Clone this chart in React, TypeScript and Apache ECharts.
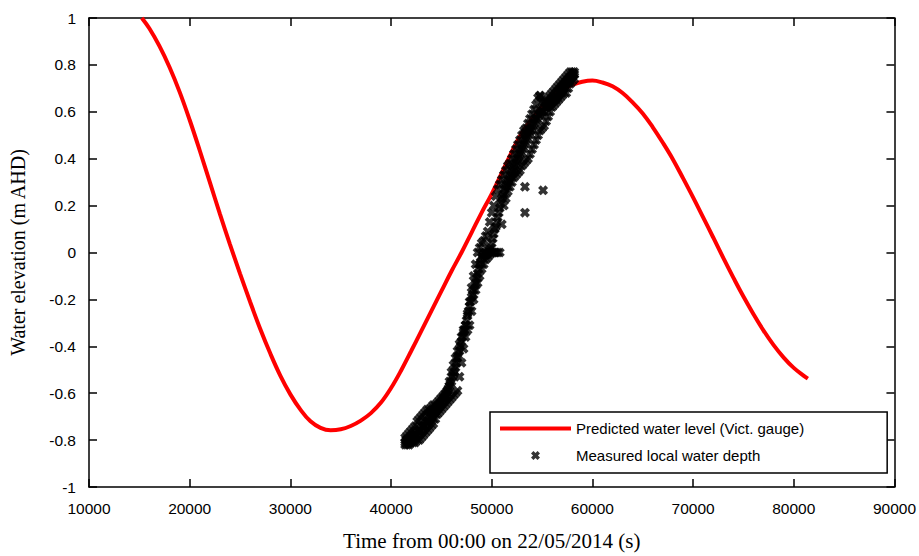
import React, { useEffect, useRef } from "react";
import * as echarts from "echarts";

// ---- Data ----
const lineName = "Predicted water level (Vict. gauge)";
const scatName = "Measured local water depth";

const xTicks = [10000, 20000, 30000, 40000, 50000, 60000, 70000, 80000, 90000];
const yTicks = [-1, -0.8, -0.6, -0.4, -0.2, 0, 0.2, 0.4, 0.6, 0.8, 1];

const predTime = [
  15250, 16000, 17000, 18000, 19000, 20000, 21000, 22000, 23000, 24000,
  25000, 26000, 27000, 28000, 29000, 30000, 31000, 32000, 33000, 34000,
  35000, 36000, 37000, 38000, 39000, 40000, 41000, 42000, 43000, 44000,
  45000, 46000, 47000, 48000, 49000, 50000, 51000, 52000, 53000, 54000,
  55000, 56000, 57000, 58000, 59000, 60000, 61000, 62000, 63000, 64000,
  65000, 66000, 67000, 68000, 69000, 70000, 71000, 72000, 73000, 74000,
  75000, 76000, 77000, 78000, 79000, 80000, 81000, 81400,
];
const predLevel = [
  1.0, 0.955, 0.88, 0.79, 0.685, 0.565, 0.435, 0.3, 0.165, 0.035,
  -0.09, -0.21, -0.325, -0.43, -0.525, -0.605, -0.67, -0.72, -0.748, -0.758,
  -0.754, -0.74, -0.717, -0.685, -0.64, -0.578, -0.503, -0.42, -0.335, -0.25,
  -0.165, -0.08, 0.0, 0.085, 0.17, 0.25, 0.34, 0.43, 0.51, 0.57,
  0.622, 0.663, 0.695, 0.715, 0.728, 0.733, 0.725, 0.709, 0.68, 0.64,
  0.593, 0.534, 0.468, 0.397, 0.317, 0.235, 0.15, 0.064, -0.023, -0.107,
  -0.188, -0.263, -0.333, -0.395, -0.448, -0.492, -0.526, -0.538,
];

// measured band, sampled every 200 s (upper edge, middle, lower edge)
const measTime = [
  41400, 41600, 41800, 42000, 42200, 42400, 42600, 42800, 43000, 43200,
  43400, 43600, 43800, 44000, 44200, 44400, 44600, 44800, 45000, 45200,
  45400, 45600, 45800, 46000, 46200, 46400, 46600, 46800, 47000, 47200,
  47400, 47600, 47800, 48000, 48200, 48400, 48600, 48800, 49000, 49200,
  49400, 49600, 49800, 50000, 50200, 50400, 50600, 50800, 51000, 51200,
  51400, 51600, 51800, 52000, 52200, 52400, 52600, 52800, 53000, 53200,
  53400, 53600, 53800, 54000, 54200, 54400, 54600, 54800, 55000, 55200,
  55400, 55600, 55800, 56000, 56200, 56400, 56600, 56800, 57000, 57200,
  57400, 57600, 57800, 58000, 58200,
];
const measUpper = [
  -0.79, -0.78, -0.77, -0.76, -0.75, -0.74, -0.72, -0.71, -0.7, -0.69,
  -0.68, -0.67, -0.67, -0.66, -0.65, -0.65, -0.64, -0.63, -0.62, -0.61,
  -0.6, -0.59, -0.55, -0.51, -0.48, -0.45, -0.42, -0.39, -0.36, -0.33,
  -0.31, -0.26, -0.21, -0.15, -0.1, -0.05, 0.0, 0.02, 0.04, 0.05,
  0.07, 0.09, 0.13, 0.17, 0.2, 0.24, 0.27, 0.29, 0.31, 0.33,
  0.35, 0.37, 0.38, 0.4, 0.42, 0.44, 0.46, 0.48, 0.5, 0.52,
  0.53, 0.55, 0.57, 0.59, 0.61, 0.63, 0.66, 0.67, 0.64, 0.64,
  0.65, 0.66, 0.67, 0.68, 0.69, 0.7, 0.71, 0.72, 0.73, 0.74,
  0.75, 0.76, 0.77, 0.77, 0.77,
];
const measMid = [
  -0.81, -0.8, -0.81, -0.79, -0.79, -0.78, -0.77, -0.76, -0.75, -0.74,
  -0.73, -0.72, -0.71, -0.7, -0.69, -0.68, -0.66, -0.65, -0.64, -0.62,
  -0.61, -0.59, -0.57, -0.55, -0.52, -0.49, -0.45, -0.42, -0.38, -0.34,
  -0.31, -0.27, -0.23, -0.19, -0.16, -0.13, -0.09, -0.05, -0.02, -0.01,
  0.0, 0.0, 0.01, 0.04, 0.08, 0.11, 0.15, 0.19, 0.23, 0.25,
  0.28, 0.3, 0.32, 0.34, 0.36, 0.38, 0.4, 0.42, 0.44, 0.46,
  0.48, 0.5, 0.52, 0.53, 0.55, 0.57, 0.58, 0.59, 0.6, 0.61,
  0.62, 0.63, 0.64, 0.64, 0.65, 0.66, 0.67, 0.68, 0.7, 0.71,
  0.72, 0.73, 0.74, 0.75, 0.76,
];
const measLower = [
  -0.82, -0.82, -0.82, -0.81, -0.81, -0.81, -0.8, -0.8, -0.79, -0.78,
  -0.77, -0.76, -0.75, -0.74, -0.73, -0.71, -0.69, -0.68, -0.67, -0.66,
  -0.65, -0.64, -0.63, -0.62, -0.61, -0.6, -0.59, -0.53, -0.47, -0.41,
  -0.36, -0.33, -0.31, -0.25, -0.2, -0.16, -0.13, -0.1, -0.07, -0.05,
  -0.03, -0.02, -0.01, 0.0, 0.0, 0.0, 0.0, 0.0, 0.12, 0.2,
  0.23, 0.26, 0.28, 0.3, 0.32, 0.33, 0.34, 0.35, 0.37, 0.38,
  0.39, 0.4, 0.42, 0.44, 0.46, 0.48, 0.5, 0.52, 0.53, 0.54,
  0.56, 0.58, 0.6, 0.62, 0.63, 0.64, 0.65, 0.66, 0.67, 0.68,
  0.68, 0.7, 0.72, 0.73, 0.74,
];
// measured band, readings at the intermediate times
const measTime2 = [
  41500, 41700, 41900, 42100, 42300, 42500, 42700, 42900, 43100, 43300,
  43500, 43700, 43900, 44100, 44300, 44500, 44700, 44900, 45100, 45300,
  45500, 45700, 45900, 46100, 46300, 46500, 46700, 46900, 47100, 47300,
  47500, 47700, 47900, 48100, 48300, 48500, 48700, 48900, 49100, 49300,
  49500, 49700, 49900, 50100, 50300, 50500, 50700, 50900, 51100, 51300,
  51500, 51700, 51900, 52100, 52300, 52500, 52700, 52900, 53100, 53300,
  53500, 53700, 53900, 54100, 54300, 54500, 54700, 54900, 55100, 55300,
  55500, 55700, 55900, 56100, 56300, 56500, 56700, 56900, 57100, 57300,
  57500, 57700, 57900, 58100,
];
const measMid2 = [
  -0.8, -0.81, -0.8, -0.79, -0.78, -0.78, -0.76, -0.76, -0.74, -0.74,
  -0.72, -0.72, -0.7, -0.7, -0.68, -0.67, -0.66, -0.64, -0.63, -0.62,
  -0.6, -0.58, -0.56, -0.53, -0.51, -0.47, -0.44, -0.4, -0.36, -0.33,
  -0.29, -0.25, -0.21, -0.18, -0.14, -0.11, -0.07, -0.04, -0.01, 0.0,
  -0.01, 0.01, 0.02, 0.06, 0.1, 0.13, 0.17, 0.21, 0.24, 0.27,
  0.29, 0.31, 0.33, 0.35, 0.37, 0.39, 0.41, 0.43, 0.45, 0.47,
  0.49, 0.51, 0.52, 0.54, 0.56, 0.57, 0.59, 0.6, 0.6, 0.62,
  0.62, 0.63, 0.64, 0.65, 0.65, 0.66, 0.68, 0.69, 0.7, 0.72,
  0.73, 0.73, 0.75, 0.76,
];
// isolated outlying measurements
const outlierTime = [53300, 53300, 55100, 53300, 54800];
const outlierValue = [0.51, 0.28, 0.265, 0.17, 0.667];

const X_SYMBOL =
  "path://M0,2.7L2.7,0L5,2.3L7.3,0L10,2.7L7.7,5L10,7.3L7.3,10L5,7.7L2.7,10L0,7.3L2.3,5Z";
const LINE_ICON = "path://M0,0L71,0L71,4L0,4Z";

export default function App() {
  const ref = useRef<HTMLDivElement>(null);

  useEffect(() => {
    if (!ref.current) return;
    const chart = echarts.init(ref.current, null, { renderer: "svg" });

    const lineData = predTime.map((t, i) => [t, predLevel[i]]);
    const scatData: number[][] = [];
    measTime.forEach((t, i) => {
      scatData.push([t, measUpper[i]]);
      scatData.push([t, measMid[i]]);
      scatData.push([t, measLower[i]]);
    });
    measTime2.forEach((t, i) => scatData.push([t, measMid2[i]]));
    outlierTime.forEach((t, i) => scatData.push([t, outlierValue[i]]));

    const axisLine = { show: true, onZero: false, lineStyle: { color: "#000", width: 1.5 } };
    const axisTick = { show: true, inside: true, length: 8, lineStyle: { color: "#000", width: 1.5 } };
    const labelFont = { color: "#000", fontSize: 15.5, fontFamily: "Liberation Sans, Arial, sans-serif" };
    const serif = "Liberation Serif, Times New Roman, serif";

    chart.setOption({
      animation: false,
      backgroundColor: "#fff",
      grid: { left: 89, top: 18, right: 20, bottom: 64, containLabel: false },
      legend: {
        orient: "vertical",
        left: 490,
        top: 412,
        itemWidth: 71,
        itemHeight: 9,
        itemGap: 12,
        padding: [9, 83, 10, 10],
        borderColor: "#000",
        borderWidth: 1.5,
        backgroundColor: "#fff",
        selectedMode: false,
        symbolKeepAspect: true,
        textStyle: { fontSize: 15, color: "#000", fontFamily: "Liberation Sans, Arial, sans-serif" },
        data: [
          { name: lineName, icon: LINE_ICON, itemStyle: { color: "#ff0000", borderWidth: 0 } },
          { name: scatName, icon: X_SYMBOL },
        ],
      },
      xAxis: [
        {
          type: "value",
          position: "bottom",
          min: xTicks[0],
          max: xTicks[xTicks.length - 1],
          interval: xTicks[1] - xTicks[0],
          axisLine,
          axisTick,
          splitLine: { show: false },
          axisLabel: { ...labelFont, margin: 13, formatter: (v: number) => String(v) },
          name: "Time from 00:00 on 22/05/2014 (s)",
          nameLocation: "middle",
          nameGap: 43,
          nameTextStyle: { color: "#000", fontSize: 21, fontFamily: serif },
        },
        {
          type: "value",
          position: "top",
          min: xTicks[0],
          max: xTicks[xTicks.length - 1],
          interval: xTicks[1] - xTicks[0],
          axisLine,
          axisTick,
          splitLine: { show: false },
          axisLabel: { show: false },
        },
      ],
      yAxis: [
        {
          type: "value",
          position: "left",
          min: yTicks[0],
          max: yTicks[yTicks.length - 1],
          interval: 0.2,
          axisLine,
          axisTick,
          splitLine: { show: false },
          axisLabel: {
            ...labelFont,
            margin: 13,
            padding: [0, 0, 5, 0],
            formatter: (v: number) => String(Math.round(v * 10) / 10),
          },
          name: "Water elevation (m AHD)",
          nameLocation: "middle",
          nameGap: 61,
          nameTextStyle: { color: "#000", fontSize: 20, fontFamily: serif },
        },
        {
          type: "value",
          position: "right",
          min: yTicks[0],
          max: yTicks[yTicks.length - 1],
          interval: 0.2,
          axisLine,
          axisTick,
          splitLine: { show: false },
          axisLabel: { show: false },
        },
      ],
      series: [
        {
          type: "line",
          name: lineName,
          xAxisIndex: 0,
          yAxisIndex: 0,
          data: lineData,
          symbol: "none",
          showSymbol: false,
          smooth: 0.4,
          clip: true,
          lineStyle: { color: "#ff0000", width: 4 },
          itemStyle: { color: "#ff0000" },
          z: 2,
        },
        {
          type: "scatter",
          name: scatName,
          xAxisIndex: 0,
          yAxisIndex: 0,
          data: scatData,
          symbol: X_SYMBOL,
          symbolSize: 10,
          itemStyle: { color: "#000" },
          z: 3,
        },
      ],
    });

    return () => chart.dispose();
  }, []);

  return (
    <div
      ref={ref}
      style={{ position: "absolute", left: 0, top: 0, width: 919, height: 556, background: "#fff" }}
    />
  );
}
